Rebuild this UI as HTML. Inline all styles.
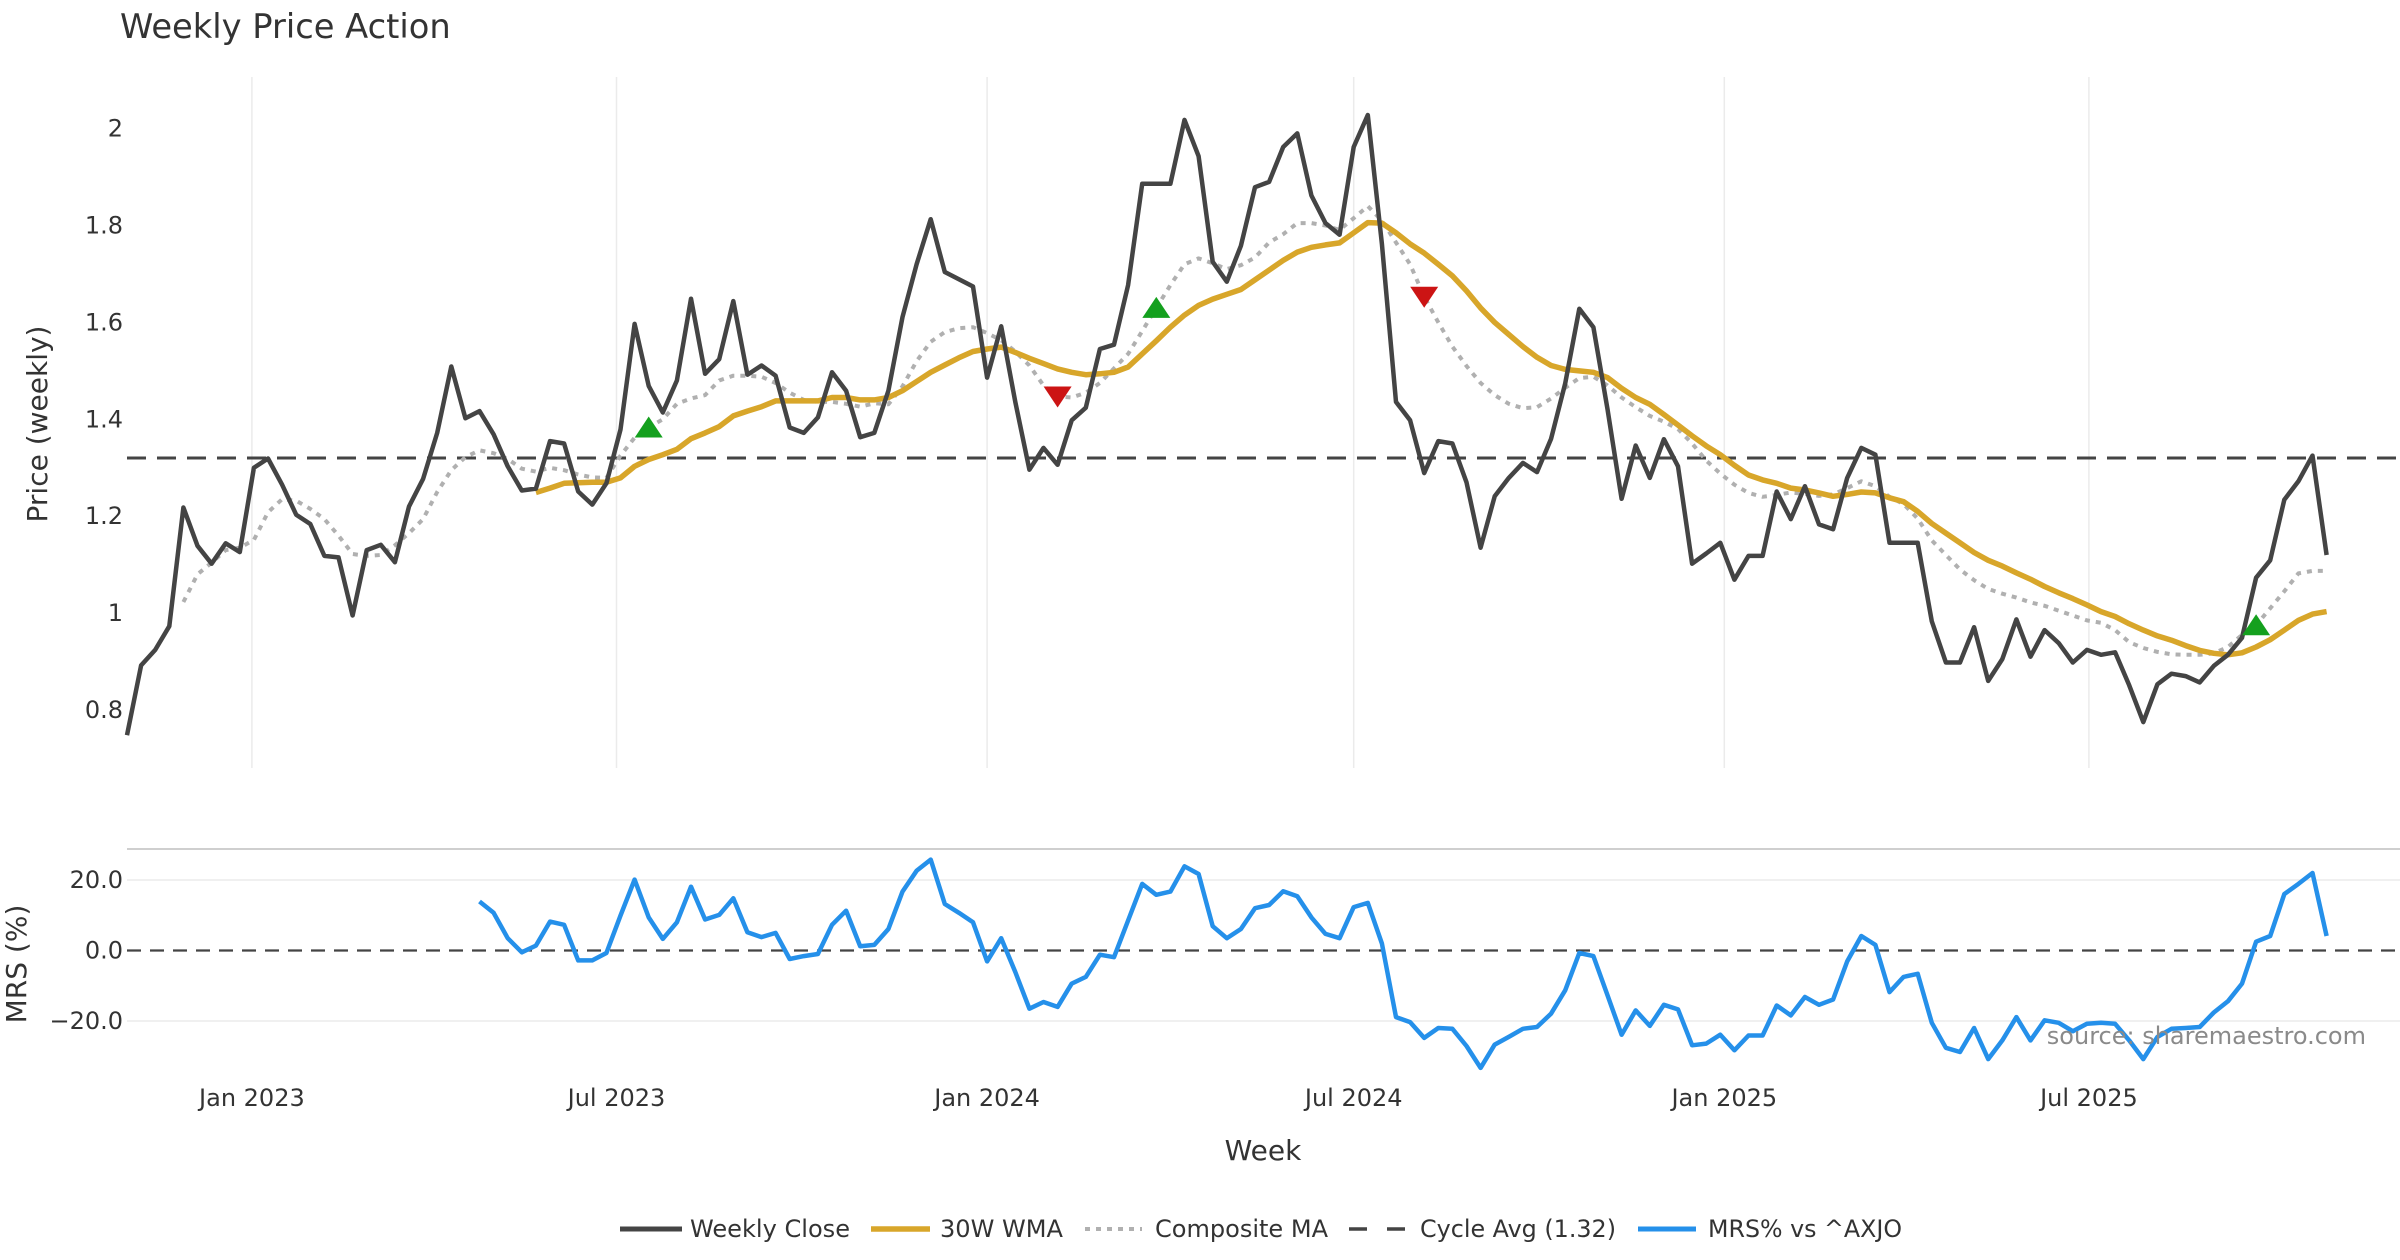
<!DOCTYPE html>
<html><head><meta charset="utf-8"><title>Weekly Price Action</title>
<style>
html,body{margin:0;padding:0;background:#fff;}
svg{display:block;font-family:"DejaVu Sans","Liberation Sans",sans-serif;}
</style></head>
<body>
<svg id="chart" width="2400" height="1260" viewBox="0 0 2400 1260" xmlns="http://www.w3.org/2000/svg">
<rect x="0" y="0" width="2400" height="1260" fill="#ffffff"/>
<text x="120" y="38" font-size="33.7" fill="#333">Weekly Price Action</text>
<g id="grid"></g>
<g id="price"></g>
<g id="mrs"></g>
<g id="axes"></g>
<text transform="translate(47,424) rotate(-90)" text-anchor="middle" font-size="28" fill="#333">Price (weekly)</text>
<text transform="translate(26,964) rotate(-90)" text-anchor="middle" font-size="28" fill="#333">MRS (%)</text>
<text x="1263" y="1160" text-anchor="middle" font-size="28" fill="#333">Week</text>
<text x="2366" y="1044" text-anchor="end" font-size="24" fill="#8a8a8a">source: sharemaestro.com</text>
<g id="legend"></g>
</svg>
<script>
const startDate = "2022-10-31";
const closeVals = [0.748,0.892,0.924,0.973,1.218,1.139,1.102,1.144,1.126,1.300,1.319,1.265,1.203,1.184,1.118,1.115,0.995,1.130,1.141,1.105,
1.220,1.277,1.372,1.509,1.402,1.417,1.369,1.303,1.253,1.257,1.355,1.350,1.251,1.224,1.268,1.379,1.597,1.469,1.414,1.480,
1.649,1.494,1.524,1.644,1.492,1.511,1.490,1.383,1.372,1.404,1.497,1.459,1.363,1.372,1.459,1.611,1.720,1.813,1.704,1.689,
1.674,1.486,1.592,1.436,1.296,1.341,1.306,1.398,1.424,1.545,1.554,1.677,1.886,1.886,1.886,2.018,1.943,1.725,1.684,1.758,
1.879,1.890,1.962,1.990,1.862,1.805,1.781,1.962,2.028,1.762,1.436,1.398,1.289,1.355,1.350,1.270,1.135,1.241,1.279,1.310,
1.291,1.360,1.474,1.628,1.590,1.421,1.236,1.346,1.279,1.359,1.303,1.102,1.123,1.145,1.069,1.118,1.118,1.251,1.194,1.262,
1.183,1.173,1.279,1.341,1.327,1.145,1.145,1.145,0.983,0.898,0.898,0.971,0.860,0.905,0.987,0.910,0.965,0.938,0.898,0.924,
0.914,0.919,0.851,0.775,0.853,0.875,0.870,0.857,0.891,0.914,0.949,1.073,1.109,1.234,1.272,1.325,1.120];
const wmaStart = 29;
const wmaVals = [1.249,1.258,1.268,1.269,1.270,1.270,1.279,1.303,1.317,1.327,1.338,1.360,1.372,1.385,1.407,1.417,1.426,1.438,1.438,1.438,
1.438,1.445,1.445,1.440,1.440,1.445,1.459,1.478,1.497,1.512,1.527,1.540,1.545,1.549,1.538,1.526,1.515,1.504,1.497,1.492,
1.494,1.497,1.508,1.535,1.562,1.590,1.615,1.635,1.648,1.658,1.668,1.688,1.708,1.728,1.745,1.755,1.760,1.764,1.785,1.806,
1.805,1.785,1.762,1.743,1.720,1.696,1.665,1.630,1.600,1.575,1.550,1.528,1.511,1.503,1.500,1.497,1.486,1.464,1.445,1.431,
1.410,1.388,1.366,1.345,1.327,1.305,1.285,1.275,1.268,1.258,1.254,1.248,1.241,1.245,1.250,1.248,1.238,1.230,1.210,1.185,
1.165,1.145,1.125,1.109,1.097,1.083,1.070,1.055,1.042,1.030,1.017,1.003,0.993,0.978,0.965,0.953,0.944,0.933,0.923,0.917,
0.914,0.918,0.930,0.945,0.965,0.985,0.998,1.003];
const compStart = 4;
const compVals = [1.023,1.080,1.104,1.130,1.135,1.151,1.208,1.235,1.232,1.215,1.194,1.160,1.122,1.118,1.120,1.140,1.165,1.194,1.250,1.295,
1.322,1.336,1.330,1.318,1.298,1.292,1.300,1.295,1.286,1.280,1.279,1.325,1.362,1.383,1.400,1.432,1.443,1.450,1.480,1.490,
1.490,1.488,1.475,1.455,1.440,1.436,1.436,1.432,1.426,1.433,1.431,1.468,1.520,1.560,1.580,1.588,1.590,1.578,1.563,1.540,
1.511,1.470,1.447,1.445,1.455,1.475,1.505,1.535,1.582,1.630,1.677,1.720,1.732,1.722,1.710,1.718,1.734,1.765,1.782,1.805,
1.805,1.800,1.791,1.815,1.840,1.810,1.765,1.720,1.653,1.600,1.550,1.510,1.475,1.450,1.432,1.423,1.425,1.443,1.465,1.485,
1.488,1.470,1.445,1.425,1.407,1.395,1.380,1.350,1.315,1.288,1.265,1.248,1.240,1.244,1.249,1.246,1.242,1.245,1.258,1.272,
1.262,1.240,1.225,1.195,1.150,1.120,1.090,1.068,1.050,1.040,1.032,1.022,1.015,1.005,0.995,0.985,0.980,0.965,0.940,0.928,
0.920,0.915,0.914,0.914,0.917,0.930,0.955,0.975,1.010,1.045,1.082,1.087,1.087];
const mrsStart = 25;
const mrsVals = [13.9,10.7,3.5,-0.5,1.4,8.2,7.3,-2.8,-2.8,-0.7,9.9,20.1,9.4,3.3,8.0,18.1,8.8,10.1,14.8,5.2,
3.8,5.0,-2.4,-1.6,-1.0,7.3,11.3,1.2,1.6,6.1,16.7,22.6,25.8,13.2,10.7,8.0,-3.1,3.5,-6.1,-16.5,
-14.6,-16.0,-9.4,-7.5,-1.2,-1.9,8.5,18.9,15.8,16.7,23.9,21.7,6.9,3.5,6.1,12.0,12.9,16.8,15.4,9.4,
4.7,3.5,12.3,13.5,2.0,-18.9,-20.3,-24.8,-22.0,-22.2,-27.1,-33.3,-26.7,-24.5,-22.2,-21.7,-17.9,-11.3,-0.7,-1.6,
-12.7,-23.9,-17.0,-21.4,-15.4,-16.7,-26.9,-26.4,-23.9,-28.3,-24.1,-24.1,-15.6,-18.4,-13.2,-15.4,-13.9,-3.1,4.1,1.6,
-11.8,-7.5,-6.6,-20.5,-27.6,-28.8,-22.0,-30.8,-25.5,-18.9,-25.5,-19.8,-20.5,-22.9,-20.8,-20.5,-20.8,-25.5,-30.8,-24.5,
-22.2,-22.0,-21.7,-17.6,-14.4,-9.4,2.5,4.1,16.0,18.9,22.0,4.1];
const cycleAvg = 1.32;
const buySignals = [37, 73, 151];
const sellSignals = [66, 92];
const priceTicks = [0.8, 1, 1.2, 1.4, 1.6, 1.8, 2];
const priceTickLabels = ["0.8", "1", "1.2", "1.4", "1.6", "1.8", "2"];
const mrsTicks = [-20, 0, 20];
const mrsTickLabels = ["\u221220.0", "0.0", "20.0"];
const dateTicks = ["2023-01-01", "2023-07-01", "2024-01-01", "2024-07-01", "2025-01-01", "2025-07-01"];
const dateTickLabels = ["Jan 2023", "Jul 2023", "Jan 2024", "Jul 2024", "Jan 2025", "Jul 2025"];

const NS = "http://www.w3.org/2000/svg";
const PX0 = 127, PXW = 14.1, PLOT_R = 2400;
const P_TOP = 77, P_BOT = 768, M_TOP = 849, M_BOT = 1075;
const d0 = Date.parse(startDate);
function xDays(days){ return PX0 + PXW * days / 7; }
function xIdx(i){ return PX0 + PXW * i; }
function xDate(s){ return xDays((Date.parse(s) - d0) / 86400000); }
function yP(v){ return 128.6 + (2 - v) * 484.5; }
function yM(v){ return 950.5 - v * 3.525; }
function mk(tag, attrs, parent){ const e = document.createElementNS(NS, tag); for (const k in attrs) e.setAttribute(k, attrs[k]); parent.appendChild(e); return e; }
function pathFrom(vals, start, yf){ let d = ""; vals.forEach((v, k) => { if (v === null) return; d += (d ? "L" : "M") + xIdx(start + k).toFixed(1) + "," + yf(v).toFixed(1); }); return d; }

const grid = document.getElementById("grid");
dateTicks.forEach((t) => {
  const l = mk("line", {x1: xDate(t), x2: xDate(t), y1: P_TOP, y2: P_BOT, stroke: "#ebebeb", "stroke-width": 1.5}, grid);
  
  
});
const mTopLine = mk("line", {x1: PX0, x2: PLOT_R, y1: M_TOP, y2: M_TOP, stroke: "#cfcfcf", "stroke-width": 2}, grid);


mrsTicks.forEach((t) => {
  if (t === 0) return;
  const l = mk("line", {x1: PX0, x2: PLOT_R, y1: yM(t), y2: yM(t), stroke: "#ebebeb", "stroke-width": 1.5}, grid);
  
  
});

const axes = document.getElementById("axes");
priceTicks.forEach((t, k) => {
  const e = mk("text", {x: 123, y: yP(t) + 8, "text-anchor": "end", "font-size": 24, fill: "#333"}, axes);
  e.textContent = priceTickLabels[k];
  
  
});
mrsTicks.forEach((t, k) => {
  const e = mk("text", {x: 123, y: yM(t) + 8, "text-anchor": "end", "font-size": 24, fill: "#333"}, axes);
  e.textContent = mrsTickLabels[k];
  
  
});
dateTicks.forEach((t, k) => {
  const e = mk("text", {x: xDate(t), y: 1106, "text-anchor": "middle", "font-size": 24, fill: "#333"}, axes);
  e.textContent = dateTickLabels[k];
  
  
});

const price = document.getElementById("price");
const cyc = mk("line", {x1: PX0, x2: PLOT_R, y1: yP(cycleAvg), y2: yP(cycleAvg), stroke: "#444", "stroke-width": 3, "stroke-dasharray": "19 11"}, price);


const comp = mk("path", {d: pathFrom(compVals, compStart, yP), fill: "none", stroke: "#b0b0b0", "stroke-width": 4, "stroke-dasharray": "5 6", "stroke-linejoin": "round"}, price);


const wma = mk("path", {d: pathFrom(wmaVals, wmaStart, yP), fill: "none", stroke: "#d8a62a", "stroke-width": 5.5, "stroke-linejoin": "round"}, price);


const close = mk("path", {d: pathFrom(closeVals, 0, yP), fill: "none", stroke: "#444", "stroke-width": 4.5, "stroke-linejoin": "round"}, price);


buySignals.forEach((i) => {
  const cx = xIdx(i), cy = yP(compVals[i - compStart]);
  const t = mk("polygon", {points: `${cx - 14},${cy + 10} ${cx + 14},${cy + 10} ${cx},${cy - 11}`, fill: "#14a01e"}, price);
  
  
});
sellSignals.forEach((i) => {
  const cx = xIdx(i), cy = yP(compVals[i - compStart]);
  const t = mk("polygon", {points: `${cx - 14},${cy - 10} ${cx + 14},${cy - 10} ${cx},${cy + 11}`, fill: "#cc1414"}, price);
  
  
});

const mrs = document.getElementById("mrs");
const zero = mk("line", {x1: PX0, x2: PLOT_R, y1: yM(0), y2: yM(0), stroke: "#444", "stroke-width": 2.2, "stroke-dasharray": "14 9"}, mrs);


const mline = mk("path", {d: pathFrom(mrsVals, mrsStart, yM), fill: "none", stroke: "#2590ea", "stroke-width": 4.5, "stroke-linejoin": "round"}, mrs);



const legend = document.getElementById("legend");
const legItems = [
  {x: 620, sw: 62, tx: 690, tl: 160, label: "Weekly Close", stroke: "#444", dash: "", w: 5, name: "legend-weekly-close"},
  {x: 871, sw: 59, tx: 940, tl: 123, label: "30W WMA", stroke: "#d8a62a", dash: "", w: 5.5, name: "legend-30w-wma"},
  {x: 1085, sw: 57, tx: 1155, tl: 173, label: "Composite MA", stroke: "#b0b0b0", dash: "5 6", w: 4, name: "legend-composite-ma"},
  {x: 1349, sw: 56, tx: 1420, tl: 196, label: "Cycle Avg (1.32)", stroke: "#444", dash: "18 20", w: 3.5, name: "legend-cycle-avg"},
  {x: 1638, sw: 58, tx: 1708, tl: 194, label: "MRS% vs ^AXJO", stroke: "#2590ea", dash: "", w: 5, name: "legend-mrs"}
];
legItems.forEach((it) => {
  const g = mk("g", {}, legend);
  
  
  const l = mk("line", {x1: it.x, x2: it.x + it.sw, y1: 1229, y2: 1229, stroke: it.stroke, "stroke-width": it.w, "stroke-dasharray": it.dash}, g);
  
  
  const t = mk("text", {x: it.tx, y: 1237, "font-size": 24, fill: "#333", textLength: it.tl, lengthAdjust: "spacingAndGlyphs"}, g);
  t.textContent = it.label;
  
  
});
</script>
</body></html>
